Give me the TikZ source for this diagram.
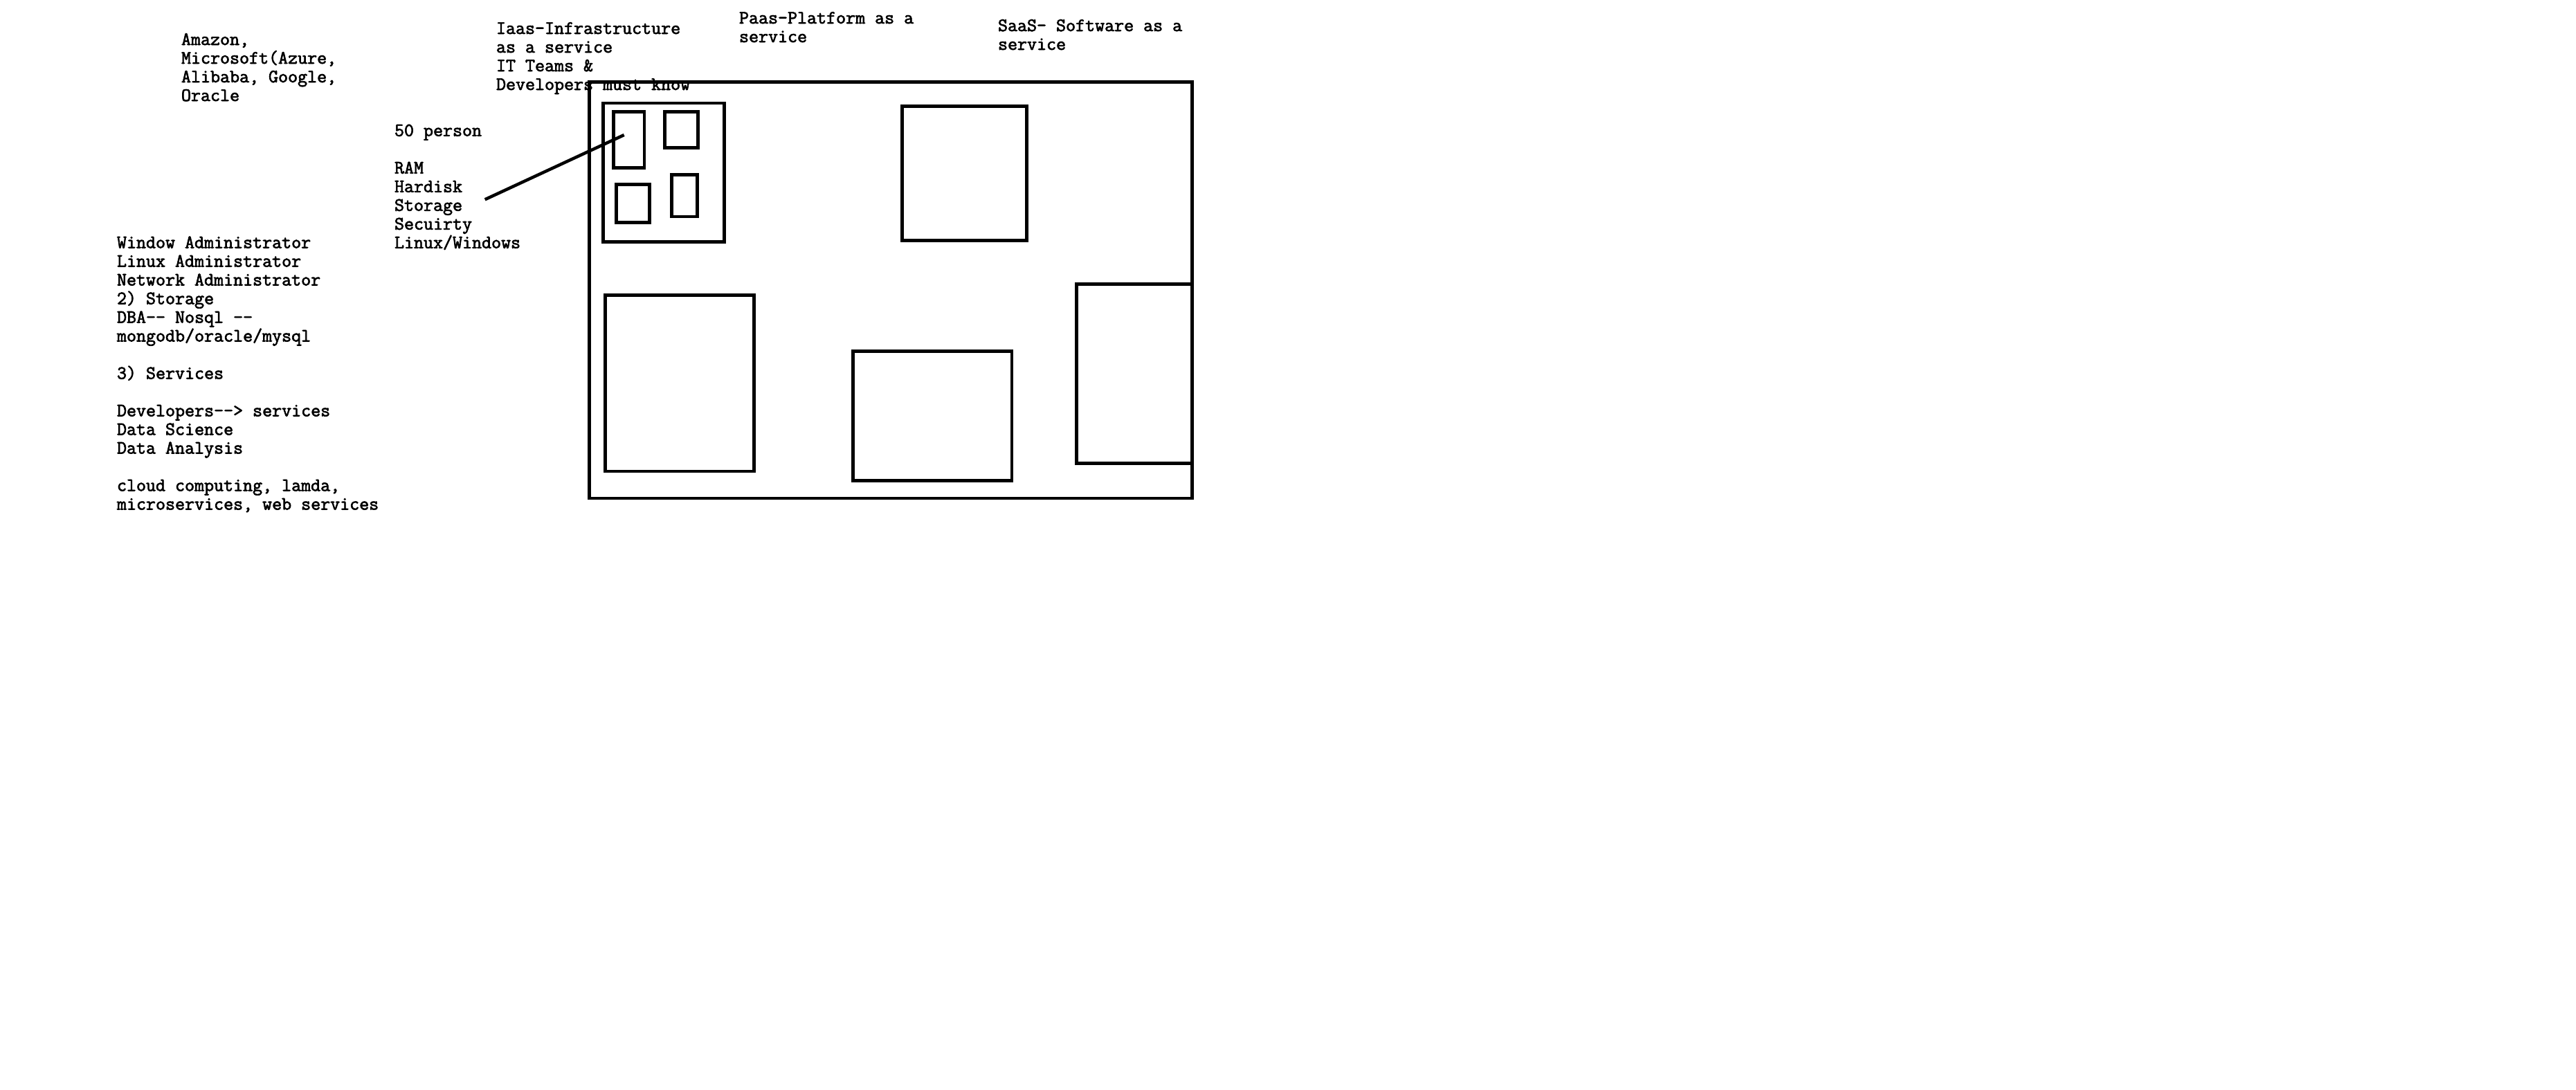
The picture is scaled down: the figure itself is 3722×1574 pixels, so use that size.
\documentclass[tikz,border=0pt]{standalone}
\usepackage{fontspec}
\setmainfont{Liberation Mono}
\newfontfamily\cour{Latin Modern Mono}[FakeBold=2.5]
\begin{document}
\begin{tikzpicture}[x=1pt,y=-1pt,
  box/.style={draw=black, line width=4.7pt, inner sep=0pt, outer sep=0pt, rectangle},
  txt/.style={anchor=base west, inner sep=0pt, outer sep=0pt, text=black, font=\cour\fontsize{27.2}{27}\selectfont},
  link/.style={draw=black, line width=4.5pt}
]
\fill[white] (0,0) rectangle (3722,1574);
\useasboundingbox (0,0) rectangle (3722,1574);

% boxes
\node[box, minimum width=870.6pt, minimum height=601.7pt] (outer) at (1287,419.15) {};
\node[box, minimum width=174.6pt, minimum height=200.7pt] (iaasbox) at (959,249.35) {};
\node[box, minimum width=44.3pt, minimum height=80.6pt] (sba) at (908.85,202) {};
\node[box, minimum width=47.6pt, minimum height=51.6pt] (sbb) at (984.5,187.5) {};
\node[box, minimum width=48pt, minimum height=55.4pt] (sbc) at (914.3,294) {};
\node[box, minimum width=36.6pt, minimum height=60.3pt] (sbd) at (989,282.85) {};
\node[box, minimum width=180pt, minimum height=194pt] (paasbox) at (1393.3,250.3) {};
\node[box, minimum width=215pt, minimum height=254.7pt] (blbox) at (981.8,553.65) {};
\node[box, minimum width=229.3pt, minimum height=186.6pt] (bmbox) at (1347.35,601) {};
\node[box, minimum width=167pt, minimum height=259pt] (rbox) at (1638.8,539.8) {};

% connector
\coordinate (ls) at (700.7,288.3);
\coordinate (le) at (901.7,195);
\draw[link] (ls) -- (le);

% texts
\foreach \i/\t in {0/{Amazon,}, 1/{Microsoft(Azure,}, 2/{Alibaba, Google,}, 3/{Oracle}}
  \node[txt] (amz\i) at (262,65+27*\i) {\t};
\foreach \i/\t in {0/{Iaas-Infrastructure}, 1/{as a service}, 2/{IT Teams \&}, 3/{Developers must know}}
  \node[txt] (iaas\i) at (717,49+27*\i) {\t};
\foreach \i/\t in {0/{Paas-Platform as a}, 1/{service}}
  \node[txt] (paas\i) at (1068,34+27*\i) {\t};
\foreach \i/\t in {0/{SaaS- Software as a}, 1/{service}}
  \node[txt] (saas\i) at (1442,45+27*\i) {\t};
\foreach \i/\t in {0/{50 person}, 2/{RAM}, 3/{Hardisk}, 4/{Storage}, 5/{Secuirty}, 6/{Linux/Windows}}
  \node[txt] (res\i) at (570,196.7+27*\i) {\t};
\foreach \i/\t in {0/{Window Administrator}, 1/{Linux Administrator}, 2/{Network Administrator},
  3/{2) Storage}, 4/{DBA-{}- Nosql -{}-}, 5/{mongodb/oracle/mysql}, 7/{3) Services},
  9/{Developers-{}-> services}, 10/{Data Science}, 11/{Data Analysis},
  13/{cloud computing, lamda,}, 14/{microservices, web services}}
  \node[txt] (adm\i) at (169,358.5+27*\i) {\t};
\end{tikzpicture}
\end{document}
